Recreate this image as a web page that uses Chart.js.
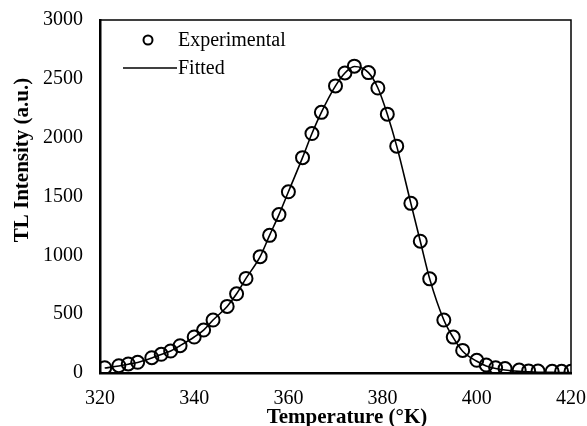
<!DOCTYPE html>
<html>
<head>
<meta charset="utf-8">
<script src="https://cdn.jsdelivr.net/npm/chart.js@4.4.1/dist/chart.umd.min.js"></script>
<style>
  html, body { margin: 0; padding: 0; background: #fff; }
  #wrap { width: 587px; height: 426px; }
</style>
</head>
<body>
<div id="wrap"><canvas id="tlChart"></canvas></div>
<script>
// Temperature (°K) of each measured point
const temps = [321, 324, 326, 328, 331, 333, 335, 337, 340, 342, 344, 347, 349, 351,
  354, 356, 358, 360, 363, 365, 367, 370, 372, 374, 377, 379, 381, 383, 386, 388,
  390, 393, 395, 397, 400, 402, 404, 406, 409, 411, 413, 416, 418, 420];

// TL intensity, measured
const experimental = [45, 62, 77, 91, 130, 159, 187, 232, 306, 365, 450, 566, 673, 804,
  989, 1170, 1346, 1540, 1830, 2035, 2215, 2440, 2550, 2608, 2553, 2422, 2200, 1928, 1442, 1120,
  800, 450, 305, 192, 108, 68, 45, 38, 25, 18, 16, 14, 14, 14];

// TL intensity, fitted curve
const fitted = [42, 60, 75, 90, 128, 158, 187, 232, 306, 365, 450, 566, 673, 804,
  989, 1170, 1346, 1540, 1830, 2035, 2215, 2440, 2550, 2605, 2553, 2422, 2200, 1928, 1442, 1120,
  800, 450, 300, 185, 100, 60, 38, 25, 14, 10, 7, 5, 4, 3];

const xTicks = [320, 340, 360, 380, 400, 420];
const yTicks = [0, 500, 1000, 1500, 2000, 2500, 3000];

const xTitle = 'Temperature (°K)';
const yTitle = 'TL Intensity (a.u.)';

const serif = "'Liberation Serif', 'Times New Roman', serif";

document.addEventListener('DOMContentLoaded', function() {
    const canvas = document.getElementById('tlChart');
    if (!canvas) return;

    // thin frame round the plot area (top and right sides)
    const framePlugin = {
        id: 'frame',
        beforeDatasetsDraw(chart) {
            const {ctx, chartArea: a} = chart;
            ctx.save();
            ctx.strokeStyle = '#000';
            ctx.lineWidth = 1.5;
            ctx.strokeRect(a.left, a.top, a.right - a.left, a.bottom - a.top);
            ctx.restore();
        }
    };

    // legend inside the plot (top left) + axis titles, placed like the original
    const annotations = {
        id: 'annotations',
        afterDraw(chart) {
            const ctx = chart.ctx;
            ctx.save();
            ctx.fillStyle = '#000';
            ctx.strokeStyle = '#000';
            ctx.font = '20px ' + serif;
            ctx.textBaseline = 'middle';
            ctx.textAlign = 'left';

            ctx.lineWidth = 2;
            ctx.beginPath();
            ctx.arc(148, 40, 4.5, 0, Math.PI * 2);
            ctx.stroke();
            ctx.fillText(chart.data.datasets[0].label, 178, 41);

            ctx.lineWidth = 1.5;
            ctx.beginPath();
            ctx.moveTo(123, 68);
            ctx.lineTo(177, 68);
            ctx.stroke();
            ctx.fillText(chart.data.datasets[1].label, 178, 69);

            // axis titles
            ctx.font = 'bold 21px ' + serif;
            ctx.textAlign = 'center';
            ctx.fillText(xTitle, 347, 418);

            ctx.translate(23, 160);
            ctx.rotate(-Math.PI / 2);
            ctx.fillText(yTitle, 0, 0);
            ctx.restore();
        }
    };

    new Chart(canvas.getContext('2d'), {
        type: 'line',
        data: {
            datasets: [{
                label: 'Experimental',
                data: temps.map((t, i) => ({x: t, y: experimental[i]})),
                showLine: false,
                pointRadius: 6.5,
                pointBorderWidth: 2,
                pointBorderColor: '#000',
                pointBackgroundColor: 'rgba(0,0,0,0)',
                order: 1
            }, {
                label: 'Fitted',
                data: temps.map((t, i) => ({x: t, y: fitted[i]})),
                borderColor: '#000',
                borderWidth: 1.6,
                pointRadius: 0,
                cubicInterpolationMode: 'monotone',
                fill: false,
                order: 2
            }]
        },
        options: {
            responsive: true,
            maintainAspectRatio: false,
            animation: false,
            layout: { padding: { top: 20, right: 16, left: 0, bottom: 0 } },
            plugins: {
                legend: { display: false },
                tooltip: { enabled: false }
            },
            scales: {
                x: {
                    type: 'linear',
                    min: 320,
                    max: 420,
                    afterFit: s => { s.height = 53; s.paddingLeft = 0; s.paddingRight = 0; },
                    afterBuildTicks: s => { s.ticks = xTicks.map(v => ({value: v})); },
                    grid: { display: false, drawTicks: false },
                    border: { display: true, color: '#000', width: 2.5 },
                    ticks: {
                        color: '#000',
                        padding: 14,
                        maxRotation: 0,
                        font: { family: serif, size: 20 }
                    }
                },
                y: {
                    min: 0,
                    max: 3000,
                    afterFit: s => { s.width = 100; s.paddingTop = 0; s.paddingBottom = 0; },
                    afterBuildTicks: s => { s.ticks = yTicks.map(v => ({value: v})); },
                    grid: { display: false, drawTicks: false },
                    border: { display: true, color: '#000', width: 2.5 },
                    ticks: {
                        color: '#000',
                        padding: 17,
                        callback: v => String(v),
                        font: { family: serif, size: 20 }
                    }
                }
            }
        },
        plugins: [framePlugin, annotations]
    });
});
</script>
</body>
</html>
